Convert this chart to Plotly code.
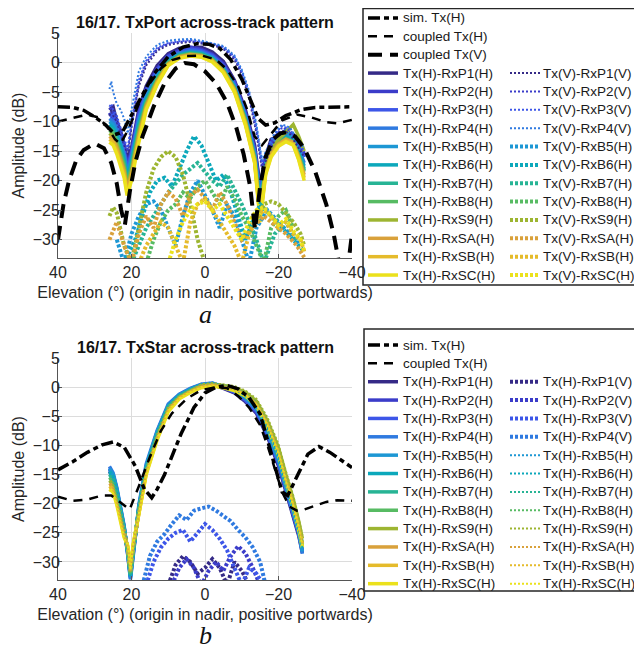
import plotly.graph_objects as go

# parula-like colours, one per receive channel
COLORS = ["#352a87", "#3b3cc9", "#3d56e8", "#2f7ae0", "#1d97d4", "#0ca8bb",
          "#27b495", "#57bb63", "#9db531", "#d9a13b", "#e5bb2b", "#ebe11c"]
RX = ["P1", "P2", "P3", "P4", "B5", "B6", "B7", "B8", "S9", "SA", "SB", "SC"]

# ---------------- panel a: TxPort ----------------
SIM_T_X = [40, 36, 33, 30, 27, 24.5, 22.5, 20, 17, 14, 10, 6, 2, -1, -4, -7, -10, -12.5, -14.5, -16.5, -19, -22, -26, -30, -35, -40]
SIM_T_Y = [-7.5, -7.6, -8.1, -9.2, -10.6, -12.2, -11.8, -9, -5.5, -2, 1, 2.6, 3.2, 3.1, 2.4, 0.5, -2.8, -6.5, -9.5, -10.6, -10.2, -9, -8, -7.6, -7.5, -7.5]
COUPH_T_X = [40, 36, 32, 29, 26.5, 24.5, 23, 21, 18, 15, 12, 9, 5, 1, -3, -6, -9, -11.5, -13.5, -15.5, -18, -21, -25, -29, -33, -36, -40]
COUPH_T_Y = [-10, -9.4, -8.8, -9.3, -11, -13, -13.8, -11.5, -7, -3.5, -1, 0.4, 1.1, 1.2, 0.5, -1.2, -4, -8, -12.5, -14, -12, -9.8, -8.8, -9.3, -10.1, -10.3, -9.7]
COUPV_T_X = [40, 38.5, 37, 35, 33, 30, 27.5, 25.5, 24, 22.8, 21.8, 20.5, 19, 17, 14, 11, 8, 5.5, 3, 0, -3, -6, -8.5, -10.5, -12.3, -13.6,
             -15, -16.5, -18.5, -20.5, -22.3, -24.5, -27, -30, -33, -35, -36.5, -38, -39, -40]
COUPV_T_Y = [-30, -24, -20, -16.5, -14.8, -13.7, -14.5, -17, -20.5, -25, -27.5, -22, -17, -12.5, -7.5, -3.5, -1, -0.1, -0.3, -1.5, -3.5, -6.8, -11, -15.5, -21, -28.3,
             -21, -16, -13, -12, -11.8, -12.5, -14.5, -18.5, -24, -29, -34, -40, -34, -29]

# Tx(H)-Rx..(H), solid
XT_H = [26, 25, 24, 23, 22, 21.2, 20, 18, 16, 13, 10, 7, 4, 1, -2, -5, -8, -11, -13.5, -15, -16.5, -18, -20, -22, -24, -25.5, -27]
TH_P1 = [-8, -7.5, -10, -11.5, -14, -16.5, -14.5, -8, -4, -0.5, 1.5, 2.4, 2.5, 2.6, 1.8, 0.2, -3, -8, -14, -21, -16, -13, -12.5, -11.5, -12.5, -14, -16]
TH_P2 = [-8.5, -9.5, -10.5, -12.5, -14, -17.5, -15, -8.5, -4.5, -1, 1.2, 2.1, 2.6, 2.2, 1.4, -0.2, -3.2, -8.5, -14.5, -21.5, -16.5, -13.5, -12, -11.8, -12.2, -13.5, -15.5]
TH_P3 = [-9, -8.8, -11, -12.5, -15, -18, -15.5, -9, -5, -1.3, 1, 1.8, 2.3, 2, 1.2, -0.5, -3.5, -8.8, -15, -22, -16.8, -14, -12.8, -12, -12.5, -14, -16]
TH_P4 = [-9.5, -10, -11, -13.5, -15.5, -18.5, -16, -9.5, -5.5, -1.8, 0.6, 1.6, 2, 1.8, 1, -0.8, -3.8, -9, -15.3, -23, -17, -14.2, -12, -12.2, -12.8, -14.5, -17]
TH_B5 = [-10, -10.5, -12, -14, -16, -19, -16.5, -10, -6, -2.2, 0.3, 1.4, 1.8, 1.6, 0.8, -1, -4, -9.3, -15.6, -23.5, -17.2, -14.5, -13.2, -11.5, -13, -15, -17.5]
TH_B6 = [-10.5, -11, -12.5, -14, -16.5, -19.5, -17, -10.5, -6.3, -2.5, 0.2, 1.3, 1.7, 1.5, 0.7, -1.1, -4.2, -9.5, -15.8, -24, -17.5, -14.8, -13.3, -12.6, -13.2, -15.3, -18]
TH_B7 = [-11, -11.5, -13, -15, -17, -20, -17.5, -11, -6.6, -2.7, 0, 1.2, 1.6, 1.4, 0.6, -1.2, -4.3, -9.7, -16, -24.5, -17.8, -15, -13.5, -12.8, -13.3, -15.5, -18.3]
TH_B8 = [-11.5, -12, -13.5, -15.5, -17.5, -20.5, -18, -11.5, -6.9, -2.9, -0.1, 1.1, 1.5, 1.3, 0.5, -1.3, -4.4, -9.8, -16.2, -25, -18, -15.2, -13.6, -12.9, -13.5, -15.8, -18.5]
TH_S9 = [-12, -12.5, -14, -16, -18, -21, -18.5, -12, -7.2, -3.1, -0.2, 1, 1.4, 1.2, 0.4, -1.4, -4.5, -10, -16.4, -25.5, -18, -14.8, -13, -11.8, -10.5, -12.5, -15]
TH_SA = [-12.5, -13, -14.5, -16.5, -18.5, -21.5, -19, -12.5, -7.5, -3.3, -0.3, 0.9, 1.3, 1.1, 0.3, -1.5, -4.6, -10.2, -16.6, -26, -18.5, -15.5, -13.8, -13, -13.5, -16, -19]
TH_SB = [-13, -13.5, -15, -17, -19, -22, -19.5, -13, -7.8, -3.5, -0.4, 0.8, 1.2, 1, 0.2, -1.6, -4.8, -10.4, -16.8, -26.5, -18.8, -15.8, -14, -13.2, -13.8, -16.3, -19.5]
TH_SC = [-13.5, -14, -15.5, -17.5, -19.5, -22.5, -20, -13.5, -8, -3.7, -0.5, 0.7, 1.1, 0.9, 0.1, -1.7, -5, -10.6, -17, -27, -19, -16, -14.2, -13.4, -14, -16.5, -20]

# Tx(V)-RxP..(V), fine dots
XT_VP = [26, 25.5, 25, 24, 23, 22, 21, 20, 18, 16, 13, 10, 7, 4, 1, -2, -5, -8, -10, -12, -14, -15.5, -17, -19, -21, -23, -25, -27]
TV_P1 = [-9, -8, -9, -10, -12, -14, -15.5, -11, -4, -0.5, 2, 3, 3.3, 3.5, 3.2, 3, 2.3, 0.5, -2, -6, -12, -18, -16, -13, -11.5, -12, -14, -16]
TV_P2 = [-8, -7.5, -8.5, -9.5, -11.5, -13.5, -15, -10.5, -3.5, 0, 2.3, 3.2, 3.5, 3.6, 3.4, 3.1, 2.5, 0.8, -1.7, -5.5, -11.5, -17.5, -15.5, -12.5, -11, -11.5, -13.5, -15.5]
TV_P3 = [-7.5, -7, -8, -9, -11, -13, -14.5, -10, -3, 0.3, 2.5, 3.3, 3.6, 3.8, 3.5, 3.2, 2.6, 1, -1.5, -5.2, -11, -17, -15, -12, -10.8, -11.2, -13, -15]
TV_P4 = [-4.5, -3.2, -5, -7, -8, -9.5, -12, -8, -1.5, 1, 3, 3.7, 3.9, 4, 3.7, 3.3, 2.8, 1.2, -1.2, -4.8, -10.5, -16.5, -14.5, -11.8, -10.5, -11, -12.8, -14.5]

# Tx(V)-RxB..S(H), cross-pol, heavy dots
XV_B5 = [24, 22, 20, 18, 16, 14, 12, 10, 8, 6, 4, 2, 0, -2, -4, -6, -8, -10, -12, -14, -17, -20, -23, -26]
YV_B5 = [-30, -34, -29, -26, -24, -23.5, -25, -28, -31, -26, -22, -20, -22.5, -25, -28, -24, -26, -30, -34, -28, -25, -27, -29, -31]
XV_B6 = [22, 19, 17, 15, 13, 11, 9, 7, 5, 3, 1, -1, -3, -5, -7, -9, -11, -13, -15, -18, -21, -24, -27]
YV_B6 = [-34, -30, -26, -22, -20, -19.5, -21, -18, -15, -12.5, -14, -17, -20, -19, -22, -26, -30, -27, -24, -26, -28, -30, -32]
XV_B7 = [20, 18, 16, 14, 12, 10, 8, 6, 4, 2, 0, -2, -4, -6, -8, -10, -12, -14, -16, -19, -22, -25]
YV_B7 = [-34, -31, -28, -26, -24, -22, -20.5, -19, -18, -17, -18.5, -20, -21, -19, -21.5, -24, -27, -30, -34, -29, -27, -30]
XV_B8 = [16, 14, 12, 10, 8, 6, 4, 2, 0, -2, -4, -6, -8, -10, -12, -14, -16, -18, -20, -22, -24]
YV_B8 = [-34, -30, -27, -25, -24, -22, -23, -21, -20, -22, -24, -21, -23, -26, -28, -31, -34, -28, -26, -25, -28]
XV_S9 = [26, 25, 24, 23, 22, 20, 18, 16, 14, 12, 10, 8, 6, 4, 2, 0, -2, -14, -16, -18, -20, -22, -24, -26, -27]
YV_S9 = [-26, -24.5, -25.5, -28, -31, -34, -28, -22, -18, -16, -15, -16, -19, -24, -30, -34, None, -27, -24, -23.5, -24, -25.5, -27, -29, -31]
XV_SA = [26, 24, 22, 20, 18, 16, 14, 12, 10, 8, 6, 4, 2, 0, -2, -4, -6, -8, -10, -13, -16, -19, -22, -25, -27]
YV_SA = [-30, -27, -31, -34, -29, -26, -28, -24, -22, -23, -26, -22.5, -21.5, -23, -25, -22, -24, -27, -30, -28, -26, -27.5, -29, -31, -33]
XV_SB = [18, 16, 14, 12, 10, 8, 6, 4, 2, 0, -2, -4, -6, -8, -10, -12, -14, -16, -18, -20, -22, -24, -26, -27]
YV_SB = [-34, -31, -29, -27, -28, -31, -34, -27, -24, -23, -25, -27, -29, -31, -34, -29, -26, -25, -26, -28, -27, -29, -30, -32]
XV_SC = [10, 8, 6, 4, 2, 0, -2, -4, -6, -8, -10, -12, -14, -16, -18, -20, -22, -24, -26, -27]
YV_SC = [-34, -30, -27, -25, -24, -23.5, -25, -24, -26, -28, -30, -27, -25, -24.5, -26, -27.5, -26.5, -28.5, -30, -32]

# ---------------- panel b: TxStar ----------------
SIM_B_X = [40, 36, 32, 28, 25, 22, 19, 16.5, 14.5, 13, 11, 9, 6.5, 3, 0, -3, -6, -9, -12, -15, -18.5, -21, -22.5, -25, -28, -31, -34, -37, -40]
SIM_B_Y = [-14.2, -12.8, -11.2, -9.9, -9.4, -10.3, -13.5, -17.5, -19, -17.5, -15, -12, -8, -3.5, -1, 0, 0.3, -0.3, -1.8, -4.6, -12.4, -18, -18.6, -15.5, -11.5, -10.2, -11.2, -12.5, -13.8]
COUPH_B_X = [40, 36, 32, 28, 25.5, 23, 20.5, 18, 15, 12, 9, 5, 1, -3, -6, -9, -12, -15, -17, -19, -21, -23, -25, -27, -30, -33, -36, -40]
COUPH_B_Y = [-18.8, -19.5, -19.3, -18.6, -18.6, -19.8, -21, -17, -12, -7.5, -4.5, -2, -0.5, 0, -0.2, -1.5, -3.5, -6.5, -10, -14, -18, -20.5, -21.2, -21, -20.3, -19.7, -19.4, -19.5]

# Tx(H)-Rx..(H), solid
XB_H = [26, 25, 24, 23, 22, 21, 20.3, 19.5, 18, 16, 13, 10, 7, 4, 1, -2, -5, -8, -11, -14, -17, -20, -22, -24, -25.5, -26.5]
BH_P1 = [-14.5, -15.5, -18, -21, -24.5, -28, -32, -28, -21, -14, -8, -3.5, -1.6, -0.5, 0.2, 0.4, -0.2, -1, -2.5, -4.5, -8.5, -13.5, -18, -22, -25.5, -28.5]
BH_P2 = [-14.2, -15.2, -17.8, -20.8, -24.2, -28.5, -32.5, -28.2, -20.8, -13.8, -7.8, -3.3, -1.5, -0.4, 0.3, 0.5, -0.1, -0.9, -2.3, -4.3, -8.2, -13.2, -17.7, -21.7, -25.2, -28.2]
BH_P3 = [-13.9, -15, -17.5, -20.5, -24, -28.8, -32.8, -28.5, -20.5, -13.5, -7.6, -3.1, -1.3, -0.3, 0.4, 0.6, 0, -0.8, -2.2, -4.1, -8, -13, -17.5, -21.5, -25, -28]
BH_P4 = [-13.6, -14.7, -17.2, -20.3, -23.8, -29, -33, -28.8, -20.2, -13.2, -7.4, -2.9, -1.2, -0.2, 0.5, 0.7, 0.1, -0.7, -2, -3.9, -7.8, -12.8, -17.3, -21.3, -25, -28.6]
BH_B5 = [-14, -15, -17.5, -20.5, -24, -28.6, -32.6, -28.3, -20.6, -13.6, -7.7, -3.2, -1.4, -0.4, 0.3, 0.5, 0, -0.6, -1.8, -3.6, -7.4, -12.4, -17, -21, -24.8, -28.2]
BH_B6 = [-14.5, -15.4, -17.8, -20.8, -24.2, -28.4, -32.4, -28, -20.8, -13.8, -7.9, -3.3, -1.5, -0.5, 0.3, 0.4, 0, -0.5, -1.6, -3.3, -7, -12, -16.6, -20.7, -24.5, -27.5]
BH_B7 = [-15, -15.8, -18.2, -21.2, -24.5, -28.2, -32.2, -27.8, -21, -14, -8, -3.4, -1.5, -0.5, 0.2, 0.4, 0.1, -0.4, -1.4, -3.1, -6.7, -11.6, -16.2, -20.3, -24.2, -27]
BH_B8 = [-15.5, -16.2, -18.6, -21.5, -24.8, -28, -32, -27.6, -21.2, -14.2, -8.2, -3.5, -1.6, -0.6, 0.2, 0.4, 0.2, -0.3, -1.2, -2.9, -6.4, -11.2, -15.8, -20, -24, -26.8]
BH_S9 = [-16, -16.6, -19, -21.8, -25, -27.8, -31.8, -27.4, -21.4, -14.4, -8.4, -3.6, -1.7, -0.6, 0.3, 0.5, 0.3, -0.1, -0.9, -2.4, -5.8, -10.4, -15, -19.2, -23, -26]
BH_SA = [-16.5, -17, -19.4, -22.2, -25.2, -27.6, -31.6, -27.2, -21.6, -14.6, -8.6, -3.8, -1.8, -0.7, 0.1, 0.4, 0.1, -0.4, -1.3, -3, -6.5, -11.3, -16, -20.2, -24, -27]
BH_SB = [-17, -17.5, -19.8, -22.5, -25.5, -27.4, -31.4, -27, -21.8, -14.8, -8.8, -4, -1.9, -0.8, 0, 0.3, 0, -0.5, -1.4, -3.1, -6.6, -11.4, -16.1, -20.3, -24.1, -27.2]
BH_SC = [-17.5, -18, -20.2, -22.8, -25.8, -27.2, -31.2, -26.8, -22, -15, -9, -4.2, -2, -0.9, -0.1, 0.2, -0.1, -0.6, -1.5, -3.2, -6.8, -11.6, -16.3, -20.5, -24.3, -27.5]

# Tx(H)-RxB..S(H), fine dots (second receive set)
BD_B5 = [-14.2, -15.3, -17.6, -20.6, -24.1, -28.3, -32.8, -28.4, -20.4, -13.4, -7.5, -3, -1.2, -0.2, 0.6, 0.8, 0.2, -0.4, -1.5, -3.4, -7.1, -12.1, -16.8, -20.9, -24.7, -28]
BD_B6 = [-14.8, -15.6, -18, -21, -24.4, -28.1, -32.5, -28.1, -20.6, -13.6, -7.7, -3.1, -1.3, -0.3, 0.5, 0.7, 0.2, -0.3, -1.4, -3.2, -6.8, -11.8, -16.5, -20.6, -24.4, -27.6]
BD_B7 = [-15.2, -16, -18.4, -21.3, -24.6, -28, -32.3, -27.9, -20.9, -13.9, -7.9, -3.3, -1.4, -0.4, 0.4, 0.6, 0.3, -0.2, -1.2, -2.9, -6.4, -11.3, -16, -20.1, -24, -27]
BD_B8 = [-15.7, -16.4, -18.8, -21.6, -24.9, -27.9, -32.1, -27.7, -21.1, -14.1, -8.1, -3.4, -1.5, -0.5, 0.4, 0.6, 0.4, -0.1, -1, -2.6, -6, -10.8, -15.5, -19.8, -23.7, -26.6]
BD_S9 = [-16.2, -16.8, -19.2, -22, -25.1, -27.7, -31.9, -27.5, -21.3, -14.3, -8.3, -3.5, -1.6, -0.5, 0.5, 0.7, 0.5, 0.2, -0.6, -2, -5.2, -9.8, -14.4, -18.6, -22.5, -25.5]
BD_SA = [-16.7, -17.2, -19.6, -22.3, -25.3, -27.5, -31.7, -27.3, -21.5, -14.5, -8.5, -3.7, -1.7, -0.6, 0.3, 0.5, 0.2, -0.3, -1.1, -2.8, -6.2, -11, -15.8, -20, -23.8, -26.8]
BD_SB = [-17.2, -17.7, -20, -22.6, -25.6, -27.3, -31.5, -27.1, -21.7, -14.7, -8.7, -3.9, -1.8, -0.7, 0.1, 0.4, 0.1, -0.4, -1.2, -2.9, -6.3, -11.1, -15.9, -20.1, -23.9, -27]
BD_SC = [-17.7, -18.2, -20.4, -23, -25.9, -27.1, -31.3, -26.9, -21.9, -14.9, -8.9, -4.1, -1.9, -0.8, 0, 0.3, 0, -0.5, -1.3, -3, -6.5, -11.3, -16.1, -20.3, -24.1, -27.3]

# Tx(H)-RxP..(V), cross-pol, heavy dots
XBV_P1 = [10, 8, 6, 4, 2, 0, -2, -4, -6, -8, -10, -12]
YBV_P1 = [-34, -30.5, -29, -30, -32, -31, -29.5, -31, -34, -30, -31.5, -34]
XBV_P2 = [9, 7, 5, 3, 1, -1, -3, -5, -7, -9, -11, -13, -15]
YBV_P2 = [-34, -31, -29.5, -31, -34, -31.5, -30, -31.5, -29, -27.3, -28.5, -31, -34]
XBV_P3 = [16, 14, 12, 10, 8, 6, 4, 2, 0, -2, -4, -6, -8, -10, -12, -14, -16]
YBV_P3 = [-34, -30, -27.5, -26, -25, -24.5, -26.5, -25, -23.5, -24.5, -26, -28, -31, -34, -31, -32, -34]
XBV_P4 = [17, 15, 13, 11, 9, 7, 5, 3, 1, -1, -3, -5, -7, -9, -11, -13, -15, -16.5]
YBV_P4 = [-34, -29, -26.5, -25.2, -23.5, -22, -22.8, -21.2, -20.8, -20.5, -21.2, -22, -23, -24.5, -25.8, -27.5, -30, -34]

TOP_H = [TH_P1, TH_P2, TH_P3, TH_P4, TH_B5, TH_B6, TH_B7, TH_B8, TH_S9, TH_SA, TH_SB, TH_SC]
TOP_V = [(XT_VP, TV_P1), (XT_VP, TV_P2), (XT_VP, TV_P3), (XT_VP, TV_P4),
         (XV_B5, YV_B5), (XV_B6, YV_B6), (XV_B7, YV_B7), (XV_B8, YV_B8),
         (XV_S9, YV_S9), (XV_SA, YV_SA), (XV_SB, YV_SB), (XV_SC, YV_SC)]
BOT_H = [BH_P1, BH_P2, BH_P3, BH_P4, BH_B5, BH_B6, BH_B7, BH_B8, BH_S9, BH_SA, BH_SB, BH_SC]
BOT_2 = [(XBV_P1, YBV_P1), (XBV_P2, YBV_P2), (XBV_P3, YBV_P3), (XBV_P4, YBV_P4),
         (XB_H, BD_B5), (XB_H, BD_B6), (XB_H, BD_B7), (XB_H, BD_B8),
         (XB_H, BD_S9), (XB_H, BD_SA), (XB_H, BD_SB), (XB_H, BD_SC)]

FONT = "Liberation Sans, Arial, sans-serif"
W, H = 634, 644   # the page adds an 8px body margin, so draw 8px smaller


def px(x, y):
    # page pixel -> paper fraction (margins are zero)
    return (x - 8) / W, 1 - (y - 8) / H


fig = go.Figure()
shapes = []
notes = []


def add(x, y, name, color, width, dash, xa, ya, row, col, top):
    fig.add_trace(go.Scatter(
        x=x, y=y, name=name, mode="lines", xaxis=xa, yaxis=ya, showlegend=False,
        line=dict(color=color, width=width, dash=dash), connectgaps=False))
    # hand-made legend entry: sample line + label
    ry = (18 if top else 345) + row * 18.36
    lx = 368 if col == 0 else 510
    x0, y0 = px(lx, ry)
    x1, _ = px(lx + 30, ry)
    shapes.append(dict(type="line", xref="paper", yref="paper", x0=x0, x1=x1, y0=y0, y1=y0,
                       line=dict(color=color, width=width, dash=dash)))
    tx, _ = px(401 if col == 0 else 541, ry)
    notes.append(dict(text=name, x=tx, y=y0, xref="paper", yref="paper", xanchor="left",
                      yanchor="middle", showarrow=False,
                      font=dict(family=FONT, size=13.5, color="#1a1a1a")))


SIM_DASH = "12px,4px,5px,4px"

# panel a
for i, ys in enumerate(TOP_H):
    add(XT_H, ys, f"Tx(H)-Rx{RX[i]}(H)", COLORS[i], 3.5, "solid", "x", "y", 3 + i, 0, True)
for i, (xs, ys) in enumerate(TOP_V):
    pol = "V" if i < 4 else "H"
    dash, w = ("2px,2px", 2) if i < 4 else ("3px,2px", 4)
    add(xs, ys, f"Tx(V)-Rx{RX[i]}({pol})", COLORS[i], w, dash, "x", "y", 3 + i, 1, True)
add(COUPV_T_X, COUPV_T_Y, "coupled Tx(V)", "black", 4, "14px,8px", "x", "y", 2, 0, True)
add(COUPH_T_X, COUPH_T_Y, "coupled Tx(H)", "black", 2.5, "9px,7px", "x", "y", 1, 0, True)
add(SIM_T_X, SIM_T_Y, "sim. Tx(H)", "black", 3.5, SIM_DASH, "x", "y", 0, 0, True)

# panel b
for i, ys in enumerate(BOT_H):
    add(XB_H, ys, f"Tx(H)-Rx{RX[i]}(H)", COLORS[i], 3.5, "solid", "x2", "y2", 2 + i, 0, False)
for i, (xs, ys) in enumerate(BOT_2):
    pol = "V" if i < 4 else "H"
    dash, w = ("3px,2px", 4) if i < 4 else ("2px,2px", 2)
    add(xs, ys, f"Tx(H)-Rx{RX[i]}({pol})", COLORS[i], w, dash, "x2", "y2", 2 + i, 1, False)
add(COUPH_B_X, COUPH_B_Y, "coupled Tx(H)", "black", 2.5, "9px,7px", "x2", "y2", 1, 0, False)
add(SIM_B_X, SIM_B_Y, "sim. Tx(H)", "black", 3.5, SIM_DASH, "x2", "y2", 0, 0, False)

axis_x = dict(range=[40, -40], tickvals=[40, 20, 0, -20, -40], showgrid=True, gridcolor="#dcdcdc",
              zeroline=False, showline=True, linecolor="#555555", ticks="inside", ticklen=4,
              tickcolor="#555555", tickfont=dict(family=FONT, size=16, color="#262626"),
              title=dict(text="Elevation (°) (origin in nadir, positive portwards)",
                         font=dict(family=FONT, size=16, color="#262626"), standoff=6),
              domain=[px(58, 0)[0], px(352, 0)[0]], automargin=False)
axis_y = dict(range=[-33.1, 5], tickvals=[5, 0, -5, -10, -15, -20, -25, -30], showgrid=True,
              gridcolor="#dcdcdc", zeroline=False, showline=True, linecolor="#555555",
              ticks="inside", ticklen=4, tickcolor="#555555", ticklabelstandoff=-6,
              tickfont=dict(family=FONT, size=16, color="#262626"), automargin=False,
              title=dict(text="Amplitude (dB)", font=dict(family=FONT, size=16, color="#262626"), standoff=4))

# legend boxes
bx0, by0 = px(363, 285)
bx1, by1 = px(660, 8.5)
shapes.append(dict(type="rect", xref="paper", yref="paper", x0=bx0, x1=bx1, y0=by0, y1=by1,
                   line=dict(color="#262626", width=1.5)))
bx0, by0 = px(364, 591)
bx1, by1 = px(660, 329)
shapes.append(dict(type="rect", xref="paper", yref="paper", x0=bx0, x1=bx1, y0=by0, y1=by1,
                   line=dict(color="#262626", width=1.5)))

cx, ty = px(205, 23)
_, by = px(205, 347)
_, ay = px(205, 315)
notes += [
    dict(text="<b>16/17. TxPort across-track pattern</b>", x=cx, y=ty, xref="paper",
         yref="paper", xanchor="center", yanchor="middle", showarrow=False,
         font=dict(family=FONT, size=16, color="#111111")),
    dict(text="<b>16/17. TxStar across-track pattern</b>", x=cx, y=by, xref="paper",
         yref="paper", xanchor="center", yanchor="middle", showarrow=False,
         font=dict(family=FONT, size=16, color="#111111")),
    dict(text="<i>a</i>", x=cx, y=ay, xref="paper", yref="paper", xanchor="center",
         yanchor="middle", showarrow=False,
         font=dict(family="Liberation Serif, serif", size=26, color="#111111")),
    dict(text="<i>b</i>", x=cx, y=0, xref="paper", yref="paper", xanchor="center",
         yanchor="bottom", showarrow=False,
         font=dict(family="Liberation Serif, serif", size=26, color="#111111")),
]

fig.update_layout(
    width=W, height=H, margin=dict(l=0, r=0, t=0, b=0, autoexpand=False),
    paper_bgcolor="white", plot_bgcolor="white", showlegend=False,
    xaxis=dict(axis_x, anchor="y"),
    yaxis=dict(axis_y, anchor="x", domain=[px(0, 258)[1], px(0, 33)[1]]),
    xaxis2=dict(axis_x, anchor="y2"),
    yaxis2=dict(axis_y, anchor="x2", domain=[px(0, 580)[1], px(0, 358)[1]]),
    shapes=shapes,
    annotations=notes,
)

fig.write_html("out.html")
